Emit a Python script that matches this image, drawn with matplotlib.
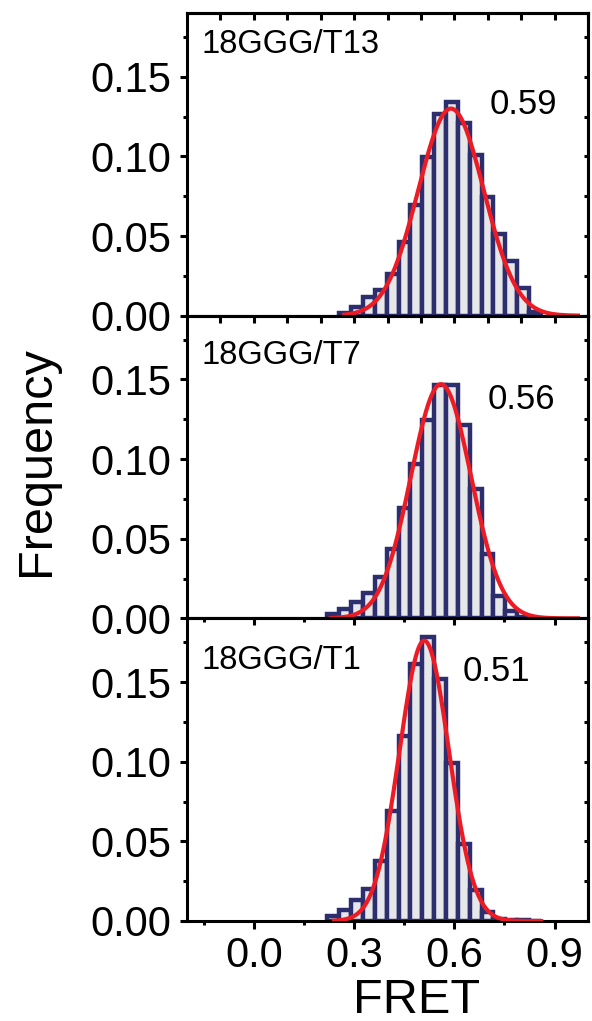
import numpy as np
import matplotlib
matplotlib.use('Agg')
import matplotlib.pyplot as plt
from matplotlib.ticker import MultipleLocator

plt.rcParams['font.family'] = ['Liberation Sans', 'DejaVu Sans']

# histogram bins (lower edges, FRET) shared by the three panels
bin_left = [0.220, 0.2555, 0.291, 0.3265, 0.362, 0.3975, 0.433, 0.4685, 0.504,
            0.5395, 0.575, 0.6105, 0.646, 0.6815, 0.717, 0.7525, 0.788, 0.8235]
bin_width = 0.0355

samples = ['18GGG/T13', '18GGG/T7', '18GGG/T1']
freq_t13 = [0, 0.0015, 0.0053, 0.0117, 0.0163, 0.0263, 0.0464, 0.0693, 0.0994,
            0.1265, 0.1339, 0.1212, 0.1011, 0.0744, 0.0513, 0.0341, 0.0174, 0.0025]
freq_t7 = [0.0030, 0.0061, 0.0102, 0.0157, 0.0258, 0.0436, 0.0691, 0.0970, 0.1242,
           0.1464, 0.1464, 0.1216, 0.0814, 0.0405, 0.0140, 0.0044, 0.0010, 0]
freq_t1 = [0.0032, 0.0068, 0.0131, 0.0199, 0.0375, 0.0693, 0.1159, 0.1614, 0.1780,
           0.1519, 0.0994, 0.0481, 0.0195, 0.0057, 0.0015, 0.0006, 0.0004, 0.0003]

# gaussian fits
fit_center = [0.59, 0.56, 0.51]
fit_amp = [0.130, 0.147, 0.176]
fit_sigma = [0.098, 0.090, 0.074]
fit_start = [0.27, 0.23, 0.24]
fit_end = [0.97, 0.97, 0.86]
peak_labels = ['0.59', '0.56', '0.51']

W, H = 592, 1021
fig = plt.figure(figsize=(W / 100, H / 100), dpi=100)
axs = fig.subplots(3, 1)
fig.subplots_adjust(left=187 / W, right=588 / W, top=1 - 13 / H, bottom=1 - 921 / H, hspace=0)

navy = '#2C2E6E'
fill = '#E6E7E9'
red = '#ED1C24'
lw = 2.2

name_y = [0.868, 0.841, 0.834]
label_pos = [(0.705, 0.1264), (0.700, 0.1315), (0.625, 0.1506)]

for i, (ax, freq) in enumerate(zip(axs, [freq_t13, freq_t7, freq_t1])):
    x = [b for b, f in zip(bin_left, freq) if f > 0]
    h = [f for f in freq if f > 0]
    ax.bar(x, h, width=bin_width, align='edge', color=fill, edgecolor=navy,
           linewidth=3.2, zorder=2)
    xs = np.linspace(fit_start[i], fit_end[i], 300)
    ys = fit_amp[i] * np.exp(-(xs - fit_center[i]) ** 2 / (2 * fit_sigma[i] ** 2))
    ax.plot(xs, ys, color=red, lw=3.0, zorder=3)

    ax.set_xlim(-0.2, 1.0)
    ax.set_ylim(0, 0.19)
    ax.set_yticks([0, 0.05, 0.10, 0.15])
    ax.set_yticklabels(['0.00', '0.05', '0.10', '0.15'])
    ax.yaxis.set_minor_locator(MultipleLocator(0.025))
    ax.tick_params(axis='y', which='major', direction='out', length=5, width=lw,
                   labelsize=30, pad=6)
    ax.tick_params(axis='y', which='minor', direction='out', length=3, width=lw)
    for s in ax.spines.values():
        s.set_linewidth(lw)

    sy = ax.secondary_yaxis('right')
    sy.set_yticks([0, 0.05, 0.10, 0.15])
    sy.yaxis.set_minor_locator(MultipleLocator(0.025))
    sy.tick_params(axis='y', which='both', direction='in', length=3, width=lw,
                   labelright=False)
    sy.spines['right'].set_linewidth(lw)

    sx = ax.secondary_xaxis('top')
    sx.spines['top'].set_linewidth(lw)
    if i < 2:
        ax.tick_params(axis='x', bottom=False, labelbottom=False)
        sx.set_xticks(np.arange(-0.1, 1.01, 0.1))
        sx.tick_params(axis='x', which='both', direction='in', length=5, width=lw,
                       labeltop=False)
    else:
        ax.set_xticks([0.0, 0.3, 0.6, 0.9])
        ax.set_xticklabels(['0.0', '0.3', '0.6', '0.9'])
        ax.set_xticks([-0.15, 0.15, 0.45, 0.75], minor=True)
        ax.tick_params(axis='x', which='major', direction='out', length=6, width=lw,
                       labelsize=30, pad=5)
        ax.tick_params(axis='x', which='minor', direction='out', length=3, width=lw)
        sx.set_xticks([0.0, 0.3, 0.6, 0.9])
        sx.set_xticks([-0.15, 0.15, 0.45, 0.75], minor=True)
        sx.tick_params(axis='x', which='major', direction='in', length=5, width=lw,
                       labeltop=False)
        sx.tick_params(axis='x', which='minor', direction='in', length=3, width=lw)

    ax.text(0.035, name_y[i], samples[i], transform=ax.transAxes, fontsize=23.5,
            va='baseline', ha='left')
    ax.text(label_pos[i][0], label_pos[i][1], peak_labels[i], fontsize=25,
            va='baseline', ha='left')

fig.text(37 / W, 1 - 461 / H, 'Frequency', rotation=90, fontsize=35,
         ha='center', va='center')
fig.text(417 / W, 1 - 1000 / H, 'FRET', fontsize=35, ha='center', va='center')

fig.savefig('out.png', dpi=100)
